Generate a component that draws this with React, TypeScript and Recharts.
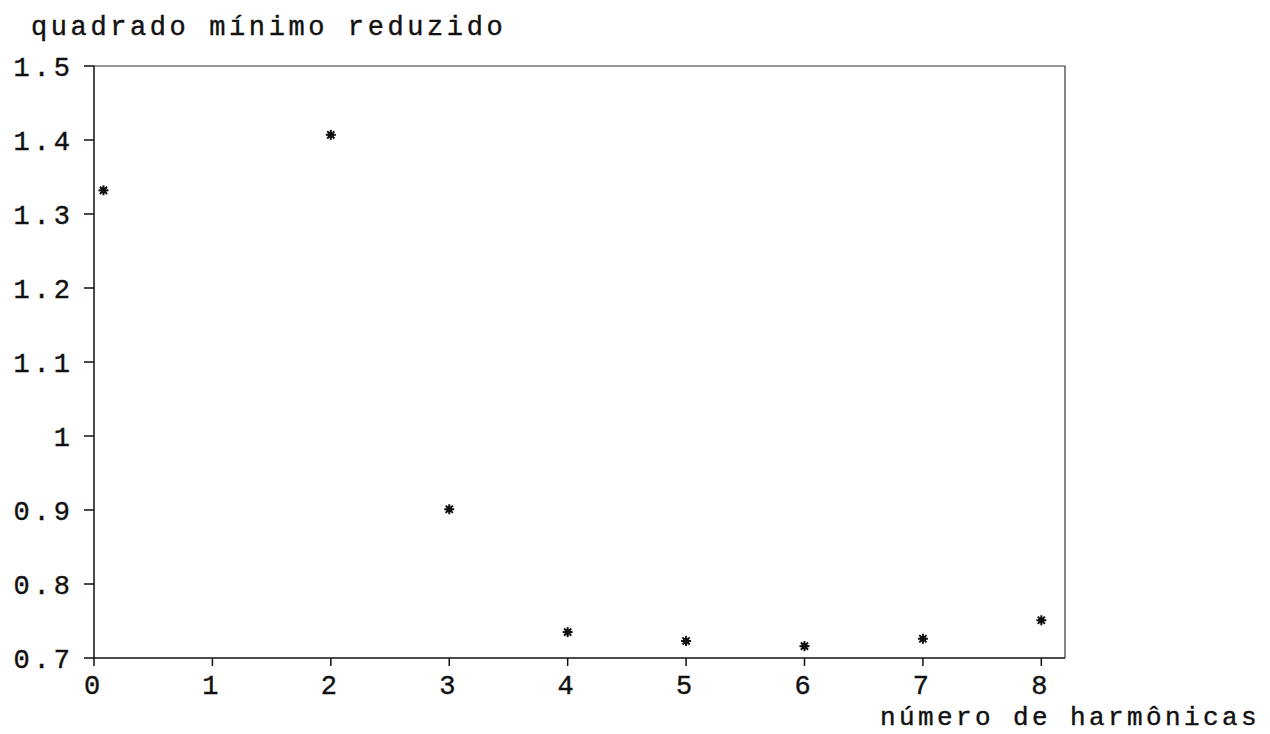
import {
  ScatterChart,
  Scatter,
  XAxis,
  YAxis,
  ReferenceLine,
} from "recharts";

// number of harmonics vs reduced least squares
const harmonics = [0.08, 2, 3, 4, 5, 6, 7, 8];
const reducedChi2 = [1.332, 1.407, 0.901, 0.735, 0.723, 0.716, 0.726, 0.751];

const xTicks = [0, 1, 2, 3, 4, 5, 6, 7, 8];
const yTicks = [0.7, 0.8, 0.9, 1.0, 1.1, 1.2, 1.3, 1.4, 1.5];

const titleText = "quadrado mínimo reduzido";
const xLabelText = "número de harmônicas";

const points = harmonics.map((x, i) => ({ x, y: reducedChi2[i] }));

const FONT = "'Liberation Mono', 'Courier New', monospace";
const INK = "#111";

const Asterisk = (props: any) => {
  const { cx, cy } = props;
  const r = 5;
  const d = 3.6;
  return (
    <g stroke={INK} strokeWidth={2}>
      <line x1={cx - r} y1={cy} x2={cx + r} y2={cy} />
      <line x1={cx} y1={cy - r} x2={cx} y2={cy + r} />
      <line x1={cx - d} y1={cy - d} x2={cx + d} y2={cy + d} />
      <line x1={cx - d} y1={cy + d} x2={cx + d} y2={cy - d} />
      <circle cx={cx} cy={cy} r={2} fill={INK} />
    </g>
  );
};

const tickStyle = {
  fontFamily: FONT,
  fontSize: 27,
  fill: INK,
  stroke: INK,
  strokeWidth: 0.4,
  letterSpacing: 4,
};

export default function App() {
  return (
    <div style={{ position: "absolute", left: 0, top: 0, width: 1270, height: 734, background: "#fff" }}>
      <ScatterChart
        width={1270}
        height={734}
        margin={{ top: 66, right: 205, bottom: 46, left: 0 }}
      >
        <XAxis
          type="number"
          dataKey="x"
          domain={[0, 8.2]}
          ticks={xTicks}
          allowDataOverflow
          height={30}
          tickSize={8}
          tickMargin={9}
          tick={tickStyle}
          axisLine={{ stroke: INK, strokeWidth: 1.5 }}
          tickLine={{ stroke: INK, strokeWidth: 1.5 }}
        />
        <YAxis
          type="number"
          dataKey="y"
          domain={[0.7, 1.5]}
          ticks={yTicks}
          allowDataOverflow
          width={94}
          tickSize={10}
          tickMargin={10}
          tick={tickStyle}
          tickFormatter={(v: number) => String(Number(v.toFixed(1)))}
          axisLine={{ stroke: INK, strokeWidth: 1.5 }}
          tickLine={{ stroke: INK, strokeWidth: 1.5 }}
        />
        <ReferenceLine x={8.2} stroke="#333" strokeWidth={1.2} />
        <ReferenceLine y={1.5} stroke="#333" strokeWidth={1.2} />
        <Scatter
          data={points}
          shape={Asterisk}
          isAnimationActive={false}
        />
      </ScatterChart>
      <svg
        width={1270}
        height={734}
        style={{ position: "absolute", left: 0, top: 0, pointerEvents: "none" }}
      >
        <text x={31} y={35} fontFamily={FONT} fontSize={27} letterSpacing={3.6} fill={INK} stroke={INK} strokeWidth={0.4}>
          {titleText}
        </text>
        <text x={880} y={725} fontFamily={FONT} fontSize={26} letterSpacing={3.4} fill={INK} stroke={INK} strokeWidth={0.4}>
          {xLabelText}
        </text>
      </svg>
    </div>
  );
}
